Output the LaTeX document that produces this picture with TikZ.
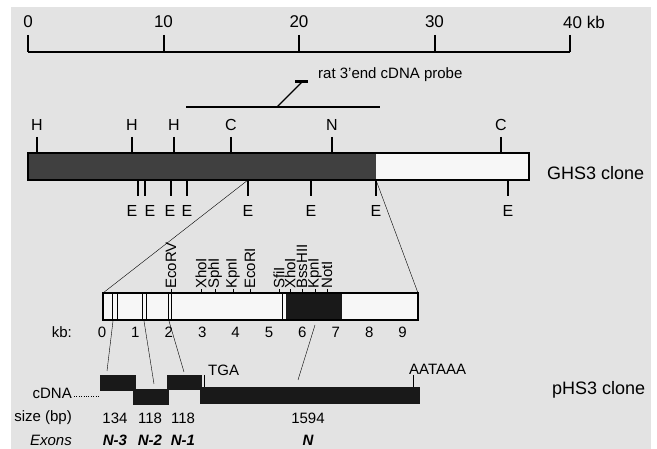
\documentclass[tikz,border=0pt]{standalone}
\usepackage{fontspec}
\setmainfont{Liberation Sans}
\usetikzlibrary{calc}
\tikzset{
	lbl/.style={font=\fontsize{17}{19}\selectfont, inner sep=0pt},
	sitelbl/.style={font=\fontsize{16}{18}\selectfont, inner sep=0pt},
	clonelbl/.style={font=\fontsize{18}{20}\selectfont, inner sep=0pt, anchor=west},
	smalllbl/.style={font=\fontsize{15}{17}\selectfont, inner sep=0pt},
	enzyme/.style={font=\fontsize{15}{17}\selectfont, inner sep=0pt, rotate=90, anchor=west},
	exonbox/.style={fill=black!90, draw=black!90}
}
\begin{document}
\begin{tikzpicture}[x=1pt,y=-1pt]
			%%%%% START %%%%%
			\fill[white] (0,0) rectangle (657,449);
			\fill[black!11] (11,7) rectangle (651,449);
			\useasboundingbox (0,0) rectangle (657,449);
			
			% kb ruler
			\draw[line width=2] (28,52) -- (570,52);
			\foreach \x/\t in {28/0,163.5/10,299/20,434.5/30}{
				\draw[line width=2] (\x,35) -- (\x,52);
				\node[lbl] (r\t) at (\x,22) {\t};
			}
			\draw[line width=2] (570,35) -- (570,52);
			\node[lbl, anchor=west] (r40) at (563,22) {40 kb};
			
			% probe
			\coordinate (pfoot) at (277,107);
			\coordinate (phead) at (302,82);
			\draw[line width=2] (186,107) -- (380,107);
			\draw[line width=1.2] (pfoot) -- (phead);
			\draw[line width=3] (295,81.5) -- (308,81.5);
			\node[smalllbl, anchor=west] (probe) at (318,75) {rat 3'end cDNA probe};
			
			% GHS3 clone
			\fill[black!3] (28,153) rectangle (529,180);
			\fill[black!75] (28,153) rectangle (376,180);
			\draw[line width=2] (28,153) rectangle (529,180);
			\foreach \x/\t in {37/H,132/H,174/H,231/C,332/N,501/C}{
				\draw[line width=2] (\x,137) -- (\x,153);
				\node[sitelbl] at (\x,125) {\t};
			}
			\foreach \x in {138,145,171,187,248,311,376,508}
				\draw[line width=2] (\x,180) -- (\x,196);
			\foreach \x in {132,150,170,187,248,311,376,508}
				\node[sitelbl] at (\x,211) {E};
			\node[clonelbl] (ghs) at (547,173) {GHS3 clone};
			
			% 10 kb detail
			\coordinate (zl) at (248,180);
			\coordinate (zr) at (376,180);
			\coordinate (bl) at (103,293);
			\coordinate (br) at (418,293);
			\fill[black!3] (103,293) rectangle (418,320);
			\fill[black!90] (286,293) rectangle (342,320);
			\draw[line width=1.5] (103,293) rectangle (418,320);
			\foreach \x in {112.5,117.5,142.5,146.5,168,171.5,282}
				\draw (\x,293) -- (\x,320);
			\draw (zl) -- (bl);
			\draw (zr) -- (br);
			\foreach \x/\t in {171/EcoRV,201/XhoI,215/SphI,233/KpnI,250/EcoRI,279/SfiI,290/XhoI,302/BssHII,315/KpnI,327/NotI}{
				\draw (\x,293) -- (\x,289);
				\node[enzyme] at (\x,289) {\t};
			}
			\node[smalllbl, anchor=east] (kb) at (72,332) {kb:};
			\foreach \i in {0,...,9}
				\node[smalllbl] at ({102+33.4*\i},332) {\i};
			
			% cDNA
			\draw[exonbox] (100,375) rectangle (135,390);
			\draw[exonbox] (133,389) rectangle (168,404);
			\draw[exonbox] (167,375) rectangle (201,389);
			\draw[exonbox] (200,387) rectangle (419,403);
			\draw (113,321) -- (107,371);
			\draw (144,321) -- (154,384);
			\draw (169,321) -- (184,372);
			\draw (315,325) -- (298,380);
			\draw (204,375) -- (204,387);
			\node[smalllbl, anchor=west] (tga) at (208,370) {TGA};
			\draw (413,375) -- (413,387);
			\node[smalllbl, anchor=west] (polya) at (409,369) {AATAAA};
			\node[smalllbl, anchor=east] (cdna) at (72,393) {cDNA};
			\draw[dotted] (74,396) -- (99,396);
			\node[clonelbl] (phs) at (552,390) {pHS3 clone};
			
			\node[smalllbl, anchor=east] (size) at (72,418) {size (bp)};
			\foreach \x/\t in {115/134,150/118,183/118,308/1594}
				\node[smalllbl] at (\x,418) {\t};
			\node[smalllbl, anchor=base east, font=\fontsize{15}{17}\selectfont\itshape] (exons) at (72,446) {Exons};
			\foreach \x/\t in {115/N-3,150/N-2,183/N-1,308/N}
				\node[smalllbl, anchor=base, font=\fontsize{15}{17}\selectfont\bfseries\itshape] at (\x,446) {\t};
			
			%%%%% END %%%%%
		\end{tikzpicture}
\end{document}
